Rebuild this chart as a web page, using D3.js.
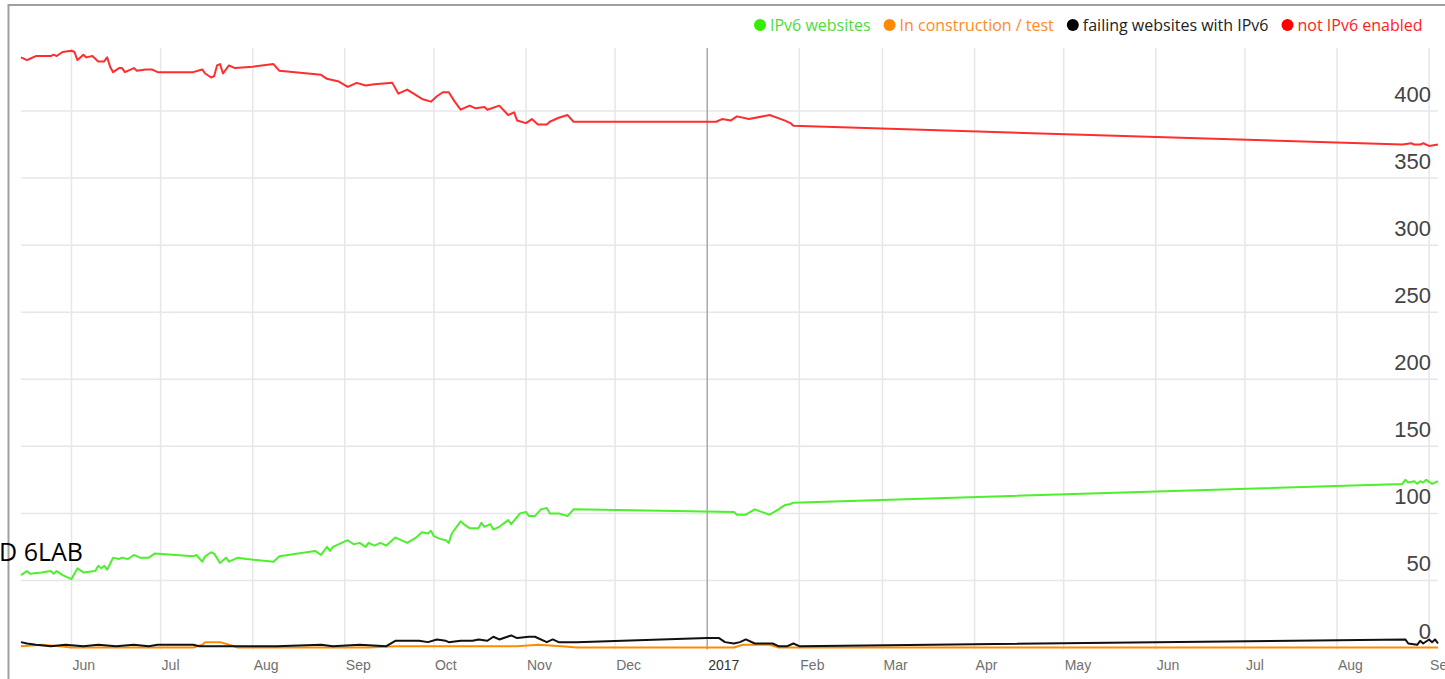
<!DOCTYPE html>
<html>
<head>
<meta charset="utf-8">
<title>IPv6 websites</title>
<script src="https://cdn.jsdelivr.net/npm/d3@7"></script>
<style>
  html, body { margin: 0; padding: 0; background: #fff; }
  svg { display: block; }
</style>
</head>
<body>
<script>

// series: [date, number of websites]
const ipv6Sites = [
  ["2016-05-15",54],["2016-05-17",57],["2016-05-18",55],["2016-05-22",56],["2016-05-25",57],["2016-05-26",55],
  ["2016-05-27",57],["2016-05-29",54],["2016-06-01",51],["2016-06-03",59],["2016-06-05",56],["2016-06-09",57],
  ["2016-06-10",61],["2016-06-11",59],["2016-06-12",61],["2016-06-13",58],["2016-06-15",67],["2016-06-17",66],
  ["2016-06-18",67],["2016-06-20",66],["2016-06-22",69],["2016-06-24",67],["2016-06-27",67],["2016-06-29",70],
  ["2016-07-12",68],["2016-07-13",69],["2016-07-15",64],["2016-07-16",68],["2016-07-18",71],["2016-07-19",70],
  ["2016-07-21",63],["2016-07-23",67],["2016-07-24",64],["2016-07-27",67],["2016-07-30",66],["2016-08-08",64],
  ["2016-08-10",68],["2016-08-22",72],["2016-08-24",69],["2016-08-26",75],["2016-08-27",72],["2016-08-28",75],
  ["2016-09-02",80],["2016-09-04",77],["2016-09-06",78],["2016-09-08",75],["2016-09-09",78],["2016-09-11",76],
  ["2016-09-13",78],["2016-09-15",76],["2016-09-18",82],["2016-09-19",81],["2016-09-22",78],["2016-09-25",82],
  ["2016-09-27",86],["2016-09-29",85],["2016-09-30",87],["2016-10-01",83],["2016-10-03",81],["2016-10-05",80],
  ["2016-10-06",78],["2016-10-07",85],["2016-10-10",94],["2016-10-11",92],["2016-10-13",89],["2016-10-16",89],
  ["2016-10-17",93],["2016-10-18",90],["2016-10-20",92],["2016-10-21",88],["2016-10-23",90],["2016-10-26",95],
  ["2016-10-27",92],["2016-10-30",100],["2016-11-01",101],["2016-11-02",98],["2016-11-04",98],["2016-11-06",103],
  ["2016-11-08",104],["2016-11-09",100],["2016-11-12",100],["2016-11-15",98],["2016-11-17",103],
  ["2017-01-10",101],["2017-01-11",99],["2017-01-14",99],["2017-01-17",103],["2017-01-22",99],["2017-01-25",103],
  ["2017-01-27",106],["2017-01-29",107],["2017-01-30",108],
  ["2017-08-23",122],["2017-08-24",125],["2017-08-25",123],["2017-08-27",124],["2017-08-28",122],["2017-08-29",124],
  ["2017-08-30",123],["2017-08-31",125],["2017-09-02",122],["2017-09-04",124]
]

const inConstruction = [
  ["2016-05-15",1],["2016-05-22",2],["2016-05-28",1],["2016-06-01",0],["2016-07-12",0],["2016-07-15",2],
  ["2016-07-16",4],["2016-07-21",4],["2016-07-24",2],["2016-07-27",0],["2016-09-09",0],["2016-09-18",1],
  ["2016-10-10",1],["2016-10-29",1],["2016-11-05",2],["2016-11-13",1],["2016-11-18",0],["2017-01-10",0],
  ["2017-01-13",2],["2017-01-22",2],["2017-01-25",0],["2017-09-04",0]
]

const failingSites = [
  ["2016-05-15",4],["2016-05-17",3],["2016-05-20",2],["2016-05-25",1],["2016-05-30",2],["2016-06-05",1],
  ["2016-06-10",2],["2016-06-16",1],["2016-06-22",2],["2016-06-27",1],["2016-06-30",2],["2016-07-12",2],
  ["2016-07-14",1],["2016-07-25",1],["2016-08-09",1],["2016-08-24",2],["2016-08-28",1],["2016-09-06",2],
  ["2016-09-15",1],["2016-09-18",5],["2016-09-26",5],["2016-09-29",4],["2016-10-02",6],["2016-10-05",5],
  ["2016-10-06",4],["2016-10-10",5],["2016-10-14",5],["2016-10-16",6],["2016-10-19",5],["2016-10-21",8],
  ["2016-10-23",6],["2016-10-27",9],["2016-10-29",7],["2016-11-02",8],["2016-11-04",8],["2016-11-08",4],
  ["2016-11-10",6],["2016-11-12",4],["2016-11-18",4],["2017-01-01",7],["2017-01-05",7],["2017-01-07",4],
  ["2017-01-10",3],["2017-01-12",4],["2017-01-14",6],["2017-01-17",3],["2017-01-23",3],["2017-01-25",1],
  ["2017-01-28",1],["2017-01-30",3],["2017-02-01",1],
  ["2017-08-24",6],["2017-08-25",3],["2017-08-28",2],["2017-08-29",5],["2017-08-30",3],["2017-09-01",6],
  ["2017-09-02",4],["2017-09-03",6],["2017-09-04",3]
]

const notEnabled = [
  ["2016-05-15",440],["2016-05-17",438],["2016-05-18",439],["2016-05-20",441],["2016-05-25",441],["2016-05-26",442],
  ["2016-05-27",441],["2016-05-29",444],["2016-06-01",445],["2016-06-02",444],["2016-06-03",438],["2016-06-05",442],
  ["2016-06-06",440],["2016-06-08",441],["2016-06-10",437],["2016-06-12",437],["2016-06-13",440],["2016-06-14",433],
  ["2016-06-15",429],["2016-06-17",432],["2016-06-18",432],["2016-06-19",429],["2016-06-22",432],["2016-06-23",430],
  ["2016-06-26",431],["2016-06-28",431],["2016-06-30",429],["2016-07-12",429],["2016-07-15",431],["2016-07-16",428],
  ["2016-07-18",425],["2016-07-19",426],["2016-07-20",434],["2016-07-21",435],["2016-07-22",428],["2016-07-24",434],
  ["2016-07-26",432],["2016-08-01",433],["2016-08-08",435],["2016-08-10",430],["2016-08-24",427],["2016-08-26",424],
  ["2016-08-30",422],["2016-09-02",418],["2016-09-05",421],["2016-09-08",419],["2016-09-11",420],["2016-09-17",421],
  ["2016-09-19",413],["2016-09-22",416],["2016-09-27",409],["2016-09-30",407],["2016-10-02",411],["2016-10-04",414],
  ["2016-10-06",414],["2016-10-08",407],["2016-10-10",401],["2016-10-13",404],["2016-10-15",402],["2016-10-18",403],
  ["2016-10-19",401],["2016-10-23",404],["2016-10-26",397],["2016-10-28",399],["2016-10-29",393],["2016-11-01",391],
  ["2016-11-03",394],["2016-11-05",390],["2016-11-08",390],["2016-11-09",392],["2016-11-12",395],["2016-11-15",397],
  ["2016-11-17",392],["2017-01-04",392],["2017-01-06",394],["2017-01-09",393],["2017-01-11",396],["2017-01-15",394],
  ["2017-01-22",397],["2017-01-27",393],["2017-01-29",391],["2017-01-30",389],
  ["2017-08-23",375],["2017-08-26",376],["2017-08-27",375],["2017-08-29",375],["2017-08-30",376],["2017-09-01",374],
  ["2017-09-04",375]
]

const seriesNames = ["IPv6 websites", "In construction / test", "failing websites with IPv6", "not IPv6 enabled"]
const seriesData = [ipv6Sites, inConstruction, failingSites, notEnabled]
const lineColors = ["#4cf02c", "#ff8c00", "#111111", "#ff2d2d"]
const dotColors = ["#33ee00", "#ff8800", "#000000", "#ff0000"]
const legendTextColors = ["#4ddc3a", "#ff8a2a", "#222222", "#ff2020"]
const drawOrder = [3, 0, 1, 2]

const yTicks = [0, 50, 100, 150, 200, 250, 300, 350, 400]
const xStart = "2016-05-15"
const xEnd = "2017-09-04"

// layout
const width = 1445
const height = 679
const plotLeft = 21
const plotRight = 1438
const plotTop = 48
const plotBottom = 647.5

const parse = d3.utcParse("%Y-%m-%d")

const svg = d3.select("body").append("svg")
    .attr("width", width)
    .attr("height", height)
    .style("font-family", "'Liberation Sans', Arial, sans-serif")

const x = d3.scaleUtc()
  .domain([parse(xStart), parse(xEnd)])
  .range([plotLeft, plotRight])

const y = d3.scaleLinear()
  .domain([0, 447])
  .range([plotBottom, plotTop])

// horizontal grid
svg.append("g")
  .selectAll("line")
  .data(yTicks.filter(d => d > 0))
  .join("line")
    .attr("x1", plotLeft)
    .attr("x2", plotRight)
    .attr("y1", d => y(d))
    .attr("y2", d => y(d))
    .attr("stroke", "#e6e6ec")
    .attr("stroke-width", 1.5)

// vertical grid, one per month
const months = x.ticks(d3.utcMonth.every(1))
svg.append("g")
  .selectAll("line")
  .data(months)
  .join("line")
    .attr("x1", d => x(d))
    .attr("x2", d => x(d))
    .attr("y1", plotTop)
    .attr("y2", plotBottom + 2)
    .attr("stroke", d => d.getUTCMonth() === 0 ? "#a8a8a8" : "#e6e6ec")
    .attr("stroke-width", 1.5)

// month labels
const monthFmt = d3.utcFormat("%b")
svg.append("g")
  .selectAll("text")
  .data(months)
  .join("text")
    .attr("x", d => x(d) + 1)
    .attr("y", 670)
    .attr("font-size", 14)
    .attr("fill", d => d.getUTCMonth() === 0 ? "#333" : "#707070")
    .text(d => d.getUTCMonth() === 0 ? d.getUTCFullYear() : monthFmt(d))

// value labels on the right
svg.append("g")
  .selectAll("text")
  .data(yTicks)
  .join("text")
    .attr("x", 1431)
    .attr("y", d => y(d) - 9)
    .attr("text-anchor", "end")
    .attr("font-size", 22)
    .attr("fill", "#444")
    .text(d => d)

// lines
const line = d3.line()
  .x(d => x(parse(d[0])))
  .y(d => y(d[1]))

svg.append("g")
  .selectAll("path")
  .data(drawOrder)
  .join("path")
    .attr("d", i => line(seriesData[i]))
    .attr("fill", "none")
    .attr("stroke", i => lineColors[i])
    .attr("stroke-width", 2)
    .attr("stroke-linejoin", "round")

// legend, laid out left to right
const legend = svg.append("g")
  .style("font-family", "'Open Sans', sans-serif")
  .attr("font-size", 16)
let lx = 760
seriesNames.forEach((name, i) => {
  legend.append("circle")
    .attr("cx", lx)
    .attr("cy", 25)
    .attr("r", 6)
    .attr("fill", dotColors[i])
  const t = legend.append("text")
    .attr("x", lx + 10)
    .attr("y", 30.5)
    .attr("fill", legendTextColors[i])
    .text(name)
  lx = lx + 10 + t.node().getComputedTextLength() + 19
})

// frame of the screenshot
svg.append("path")
  .attr("d", `M8.5,${height} V5 H${width}`)
  .attr("fill", "none")
  .attr("stroke", "#a0a0a0")
  .attr("stroke-width", 2)

// overlapping caption text
svg.append("text")
  .attr("x", 83)
  .attr("y", 561)
  .attr("text-anchor", "end")
  .style("font-family", "'Open Sans', sans-serif")
  .attr("font-size", 25)
  .attr("fill", "#000")
  .text("D 6LAB")

</script>
</body>
</html>
